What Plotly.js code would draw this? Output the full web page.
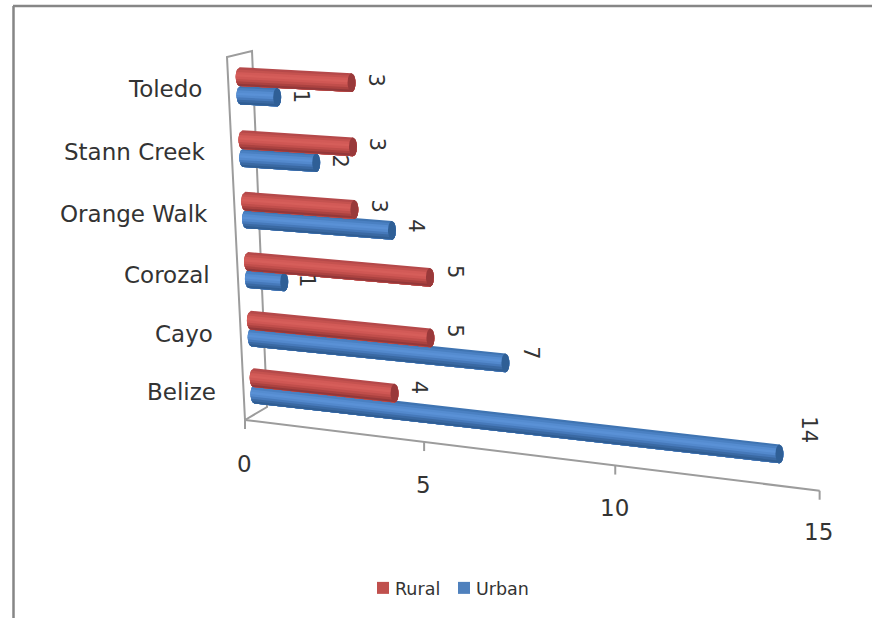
<!DOCTYPE html>
<html><head><meta charset="utf-8">
<script src="https://cdn.plot.ly/plotly-3.0.1.min.js"></script>
<style>html,body{margin:0;padding:0;background:#fff}#c{width:872px;height:618px}</style>
</head><body><div id="c"></div>
<script>
const categories = ['Belize','Cayo','Corozal','Orange Walk','Stann Creek','Toledo'];
const rural = [4,5,5,3,3,3];
const urban = [14,7,1,4,2,1];
const axisTicks = [0,5,10,15];
const ruralShades = ['#b5494a','#c4524f','#d25a57','#d65e5a','#cf5754','#c04e4b','#ab4240','#93383a'];
const urbanShades = ['#3f74b2','#4a80c2','#558cd0','#5a91d6','#5389cd','#4679ba','#3a69a3','#305e94'];
const ruralCap = '#99393a', urbanCap = '#2f5f96';
const font = '"DejaVu Sans", sans-serif';

// perspective projection of (value, row) onto the sloping chart plane
const persp = v => v/(1-0.00628*v);
const rowX = r => 254.5-2.8*r;
const rowY = r => 394-57*r-0.7*r*(r-1);
const project = (v,r) => [rowX(r)+(34.2+0.45*r)*persp(v), rowY(r)+(3.9-0.36*r)*persp(v)];
const axisPt = v => [245+34.7*persp(v), 420+4.27*persp(v)];
const HALF = 9.4, CAP = 4;

function stripTrace(values, offset, tTop, color){
  const xs=[],ys=[];
  values.forEach((v,i)=>{
    const r=i+offset, a=project(0,r), b=project(v,r);
    const n=8;
    for(let j=0;j<=n;j++){const t=tTop+(1-tTop)*j/n; xs.push(a[0]-CAP*Math.sqrt(Math.max(0,1-t*t))); ys.push(a[1]+t*HALF);}
    for(let j=n;j>=0;j--){const t=tTop+(1-tTop)*j/n; xs.push(b[0]+CAP*Math.sqrt(Math.max(0,1-t*t))); ys.push(b[1]+t*HALF);}
    xs.push(null);ys.push(null);
  });
  return {type:'scatter',mode:'lines',x:xs,y:ys,fill:'toself',fillcolor:color,line:{width:0,color:color},hoverinfo:'skip',showlegend:false};
}
function capTrace(values, offset, color){
  const xs=[],ys=[];
  values.forEach((v,i)=>{
    const b=project(v,i+offset);
    for(let j=0;j<=24;j++){const a=j/24*2*Math.PI; xs.push(b[0]+CAP*Math.cos(a)); ys.push(b[1]+HALF*Math.sin(a));}
    xs.push(null);ys.push(null);
  });
  return {type:'scatter',mode:'lines',x:xs,y:ys,fill:'toself',fillcolor:color,line:{width:0,color:color},hoverinfo:'skip',showlegend:false};
}
function series(values, offset, shades, cap){
  const out=shades.map((c,k)=>stripTrace(values,offset,-1+2*k/shades.length,c));
  out.push(capTrace(values,offset,cap));
  return out;
}
function labels(values, offset){
  return values.map((v,i)=>{
    const r=i+offset, f=persp(v), b=project(v,r);
    return {x:b[0]+23+0.4*f, y:rowY(r)+0.6*(3.9-0.36*r)*f, text:String(v), textangle:90,
      showarrow:false, xref:'x', yref:'y', xanchor:'center', yanchor:'middle', font:{family:font,size:21,color:'#333'}};
  });
}
const GRAY='#9c9c9c';
const axisLine={type:'scatter',mode:'lines',x:axisTicks.map(v=>axisPt(v)[0]),y:axisTicks.map(v=>axisPt(v)[1]),line:{color:GRAY,width:2},hoverinfo:'skip',showlegend:false};
const tickX=[],tickY=[];
axisTicks.forEach(v=>{const p=axisPt(v);tickX.push(p[0],p[0],null);tickY.push(p[1],p[1]+9,null);});
const tickLine={type:'scatter',mode:'lines',x:tickX,y:tickY,line:{color:GRAY,width:2},hoverinfo:'skip',showlegend:false};
const wall={type:'scatter',mode:'lines',x:[245,227,252,267,245],y:[420,57,51,407,420],line:{color:GRAY,width:2},hoverinfo:'skip',showlegend:false};
const legendRural={type:'scatter',mode:'markers',name:'Rural',x:[null],y:[null],marker:{symbol:'square',size:12,color:'#c0504d'}};
const legendUrban={type:'scatter',mode:'markers',name:'Urban',x:[null],y:[null],marker:{symbol:'square',size:12,color:'#4f81bd'}};

const traces=[wall,axisLine,tickLine,...series(urban,0,urbanShades,urbanCap),...series(rural,0.29,ruralShades,ruralCap),legendRural,legendUrban];

const catAnn=categories.map((c,i)=>({x:218-2.8*i,y:rowY(i)-2-0.8*i,text:c,showarrow:false,xref:'x',yref:'y',xanchor:'right',yanchor:'middle',font:{family:font,size:23,color:'#333'}}));
const tickAnn=axisTicks.map(v=>{const p=axisPt(v);return {x:p[0]-1,y:p[1]+44-0.2*v,text:String(v),showarrow:false,xref:'x',yref:'y',xanchor:'center',yanchor:'middle',font:{family:font,size:23,color:'#333'}};});

const layout={width:872,height:618,margin:{l:0,r:0,t:0,b:0},paper_bgcolor:'#fff',plot_bgcolor:'#fff',
  xaxis:{range:[0,872],visible:false,fixedrange:true},
  yaxis:{range:[618,0],visible:false,fixedrange:true},
  showlegend:true,
  legend:{orientation:'h',x:355/872,y:1-570/618,xanchor:'left',yanchor:'top',font:{family:font,size:17.5,color:'#333'},bgcolor:'rgba(0,0,0,0)',traceorder:'normal'},
  shapes:[{type:'line',xref:'paper',yref:'paper',x0:13/872,x1:1,y0:1-6/618,y1:1-6/618,line:{color:'#868686',width:2.5}},
          {type:'line',xref:'paper',yref:'paper',x0:13.5/872,x1:13.5/872,y0:1-6/618,y1:0,line:{color:'#868686',width:2.5}}],
  annotations:[...catAnn,...tickAnn,...labels(urban,0),...labels(rural,0.29)]
};
Plotly.newPlot('c',traces,layout,{displayModeBar:false,staticPlot:true}).then(()=>{
  document.querySelectorAll('#c .legendsymbols').forEach(g=>g.setAttribute('transform','translate(8,0)'));
  const items=document.querySelectorAll('#c .legend .traces');
  if(items.length===2){
    const base=items[0].getBoundingClientRect().left;
    const cur=items[1].getBoundingClientRect().left;
    const t=items[1].getAttribute('transform')||'';
    const m=t.match(/translate\(([-\d.]+)[ ,]+([-\d.]+)\)/);
    if(m) items[1].setAttribute('transform','translate('+(parseFloat(m[1])-(cur-base-81))+','+m[2]+')');
    const text=items[1].querySelector('.legendtext');
  }
});
</script></body></html>
